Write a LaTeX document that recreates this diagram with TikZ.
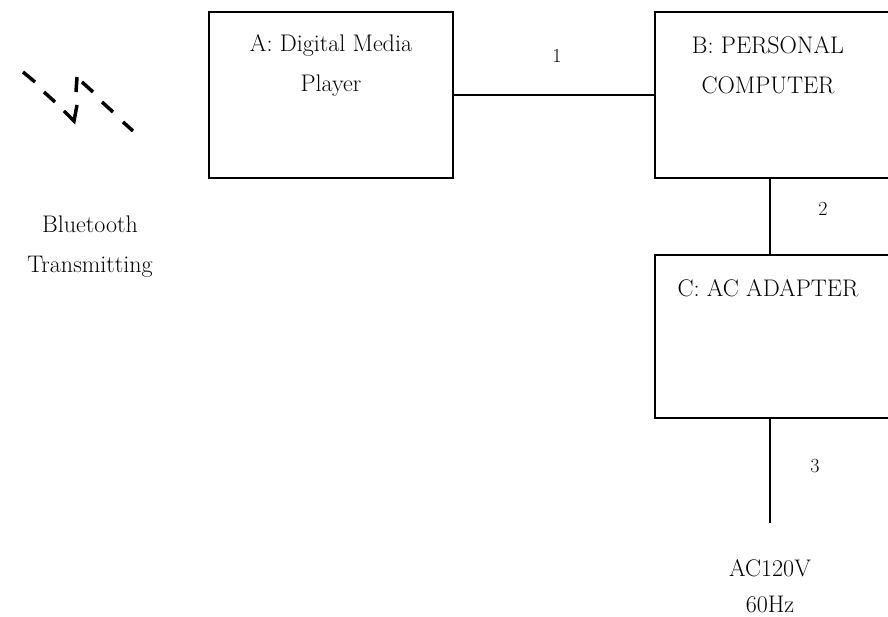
\documentclass[tikz,border=0pt]{standalone}
\usetikzlibrary{positioning}

\begin{document}
\begin{tikzpicture}[x=1pt,y=-1pt,line width=1.6pt,
    box/.style={draw,inner sep=0pt},
    txt/.style={align=center,font=\fontsize{24}{40}\selectfont},
    num/.style={font=\fontsize{20}{22}\selectfont}]
            \useasboundingbox (0,0) rectangle (888,617);
            \node[box,minimum width=244pt,minimum height=166pt] (a) at (331,95) {};   %A
            \node[box,minimum width=250pt,minimum height=166pt] (b) at (780,95) {};   %B
            \node[box,minimum width=250pt,minimum height=163pt] (c) at (780,336.5) {}; %C
            \node[txt] (atext) at (331,65) {A: Digital Media\\Player};
            \node[txt] (btext) at (768,65) {B: PERSONAL\\COMPUTER};
            \node[txt] (ctext) at (768,288) {C: AC ADAPTER};
            \node[txt] (bttext) at (90,247) {Bluetooth\\Transmitting};
            \node[txt,font=\fontsize{24}{36}\selectfont] (actext) at (770,586) {AC120V\\60Hz};
            \coordinate (plug) at (770,523);
            \draw (a.east) -- (b.west);
            \draw (b.south -| plug) -- (c.north -| plug);
            \draw (c.south -| plug) -- (plug);
            \node[num] (n1) at (557,56) {1};
            \node[num] (n2) at (823,209) {2};
            \node[num] (n3) at (815,466) {3};
            %bluetooth
            \foreach \p/\q in {{(23,72)}/{(35,82)},{(44,92)}/{(55,102)},{(76,92)}/{(77,77)},{(82,82)}/{(93,92)},{(102,102)}/{(113,112)},{(123,122)}/{(133,131)}}
              \draw[line width=3.5pt] \p -- \q;
            \draw[line width=3.5pt] (64,111) -- (74,121) -- (77,105);
            \end{tikzpicture}
\end{document}
